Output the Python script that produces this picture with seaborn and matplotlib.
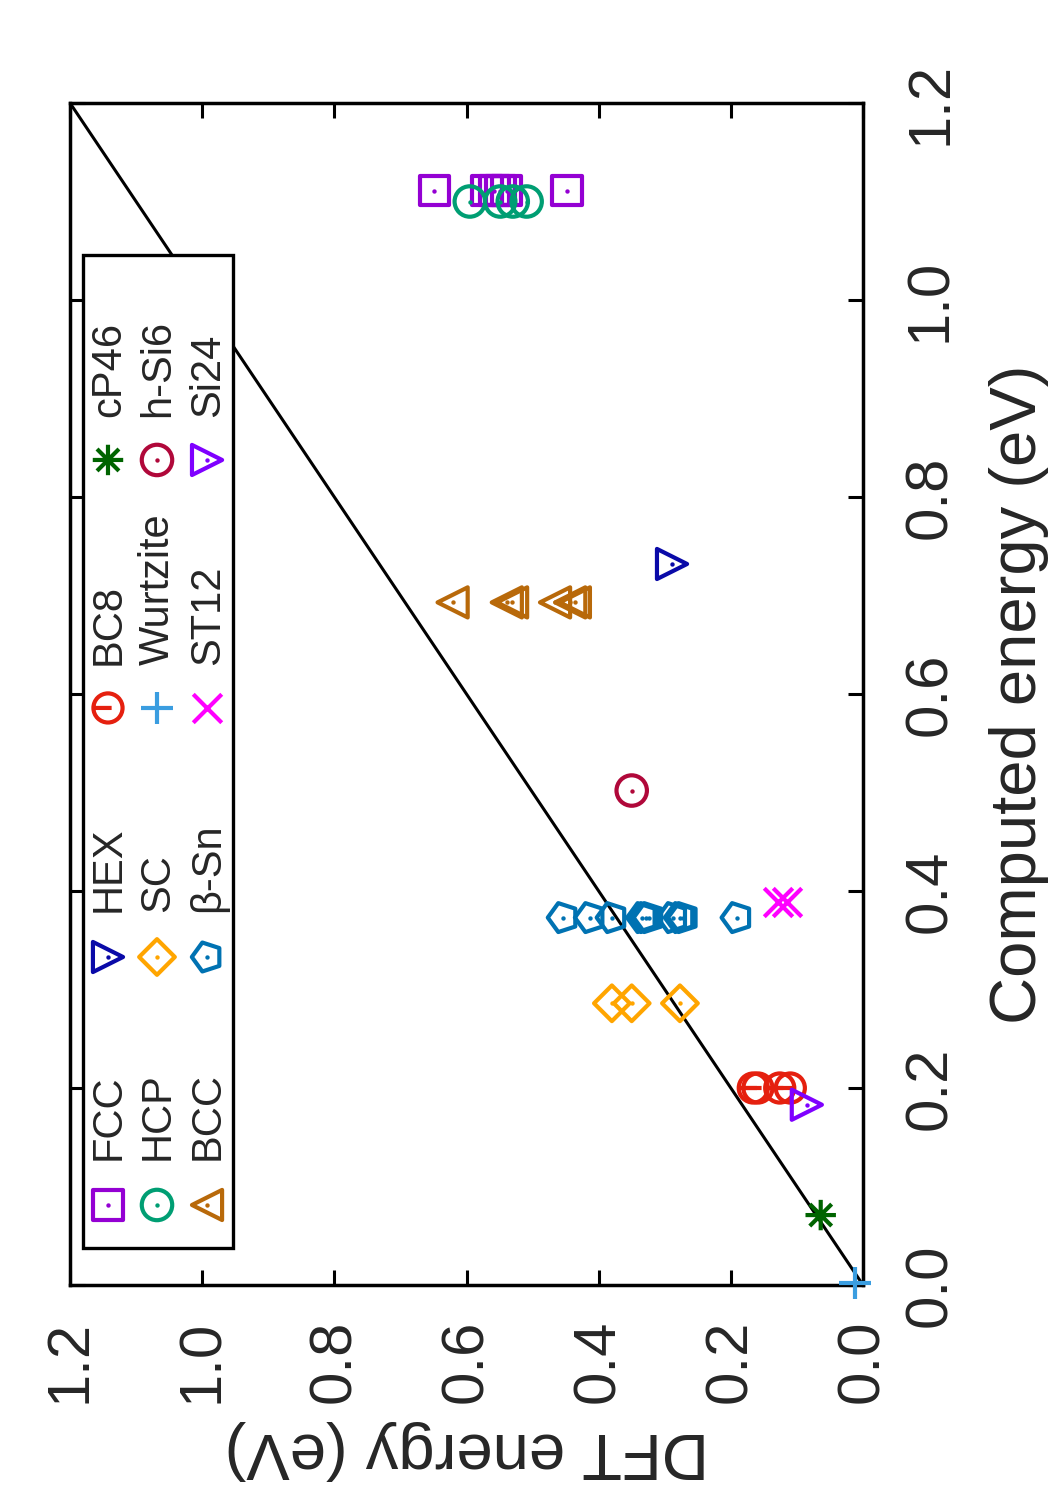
import matplotlib
matplotlib.use("Agg")
import matplotlib.pyplot as plt
import numpy as np
import seaborn as sns
from matplotlib.markers import MarkerStyle
from matplotlib.patches import Rectangle
from matplotlib.path import Path
from matplotlib.transforms import Affine2D

# Chart is drawn rotated: DFT energy runs horizontally (right to left),
# computed energy runs vertically (bottom to top).

# --- data: (computed energy, DFT energy) per structure ---
fcc_comp = [1.111, 1.111, 1.111, 1.111, 1.111, 1.111]
fcc_dft = [0.649, 0.569, 0.558, 0.549, 0.539, 0.448]

hcp_comp = [1.100, 1.100, 1.100, 1.100]
hcp_dft = [0.595, 0.549, 0.530, 0.509]

bcc_comp = [0.693, 0.693, 0.693, 0.693, 0.693, 0.693]
bcc_dft = [0.621, 0.539, 0.531, 0.466, 0.443, 0.436]

hex_comp = [0.732]
hex_dft = [0.289]

sc_comp = [0.286, 0.286, 0.286]
sc_dft = [0.380, 0.350, 0.277]

bsn_comp = [0.373, 0.373, 0.373, 0.373, 0.373, 0.373, 0.373, 0.373, 0.373, 0.373]
bsn_dft = [0.454, 0.413, 0.380, 0.334, 0.329, 0.324, 0.288, 0.277, 0.272, 0.191]

bc8_comp = [0.200, 0.200, 0.200, 0.200]
bc8_dft = [0.166, 0.159, 0.126, 0.110]

wurtz_comp = [0.002]
wurtz_dft = [0.012]

st12_comp = [0.389, 0.389]
st12_dft = [0.129, 0.115]

cp46_comp = [0.071]
cp46_dft = [0.064]

hsi6_comp = [0.502]
hsi6_dft = [0.350]

si24_comp = [0.183]
si24_dft = [0.085]

ticks = [0.0, 0.2, 0.4, 0.6, 0.8, 1.0, 1.2]

# --- custom marker shapes ---
rot = Affine2D().rotate_deg(90)
circle_bar = Path.make_compound_path(
    Path.unit_circle(),
    Path([(-1.0, 0.0), (0.25, 0.0)], [Path.MOVETO, Path.LINETO]),
)
asterisk = Path(
    [(-1, 0), (1, 0), (0, -1), (0, 1), (-0.72, -0.72), (0.72, 0.72), (-0.72, 0.72), (0.72, -0.72)],
    [Path.MOVETO, Path.LINETO] * 4,
)

# name, computed, dft, marker, colour, size, line marker?, centre dot?
series = [
    ("FCC", fcc_comp, fcc_dft, "s", "#9400d3", 440, False, True),
    ("HEX", hex_comp, hex_dft, ">", "#0a0aa8", 470, False, True),
    ("BC8", bc8_comp, bc8_dft, MarkerStyle(circle_bar), "#e5200f", 440, False, False),
    ("cP46", cp46_comp, cp46_dft, MarkerStyle(asterisk), "#006400", 480, False, False),
    ("HCP", hcp_comp, hcp_dft, "o", "#009e73", 480, False, True),
    ("SC", sc_comp, sc_dft, "D", "#ffa500", 330, False, True),
    ("Wurtzite", wurtz_comp, wurtz_dft, "+", "#3a9de0", 560, True, False),
    ("h-Si6", hsi6_comp, hsi6_dft, "o", "#b0083a", 480, False, True),
    ("BCC", bcc_comp, bcc_dft, "<", "#b8690a", 470, False, True),
    ("β-Sn", bsn_comp, bsn_dft, MarkerStyle("p", transform=rot), "#0072b2", 480, False, True),
    ("ST12", st12_comp, st12_dft, "x", "#ff00ff", 420, True, False),
    ("Si24", si24_comp, si24_dft, ">", "#7f00ff", 470, False, True),
]

sns.set_theme(style="white")
plt.rcParams["font.family"] = ["Liberation Sans", "DejaVu Sans"]

fig = plt.figure(figsize=(10.5, 15), dpi=100)
ax = fig.add_axes([70 / 1050, 1 - 1285 / 1500, 793 / 1050, 1182 / 1500])

ax.axline((0, 0), slope=1, color="black", lw=2.2, zorder=1)

LW = 3.0


def draw(x, y, marker, color, size, line, dot, clip=True):
    if line:
        sns.scatterplot(x=x, y=y, ax=ax, marker=marker, s=size, color=color,
                        linewidth=LW, clip_on=clip, zorder=3)
    else:
        sns.scatterplot(x=x, y=y, ax=ax, marker=marker, s=size, facecolor="none",
                        edgecolor=color, linewidth=LW, clip_on=clip, zorder=3)
    if dot:
        sns.scatterplot(x=x, y=y, ax=ax, marker="o", s=10, color=color,
                        linewidth=0, clip_on=clip, zorder=3)


for name, comp, dft, marker, color, size, line, dot in series:
    draw(dft, comp, marker, color, size, line, dot, clip=False)

ax.set_xlim(1.2, 0.0)
ax.set_ylim(0.0, 1.2)

# legend box drawn by hand so that its text can be rotated
ax.add_patch(Rectangle((13 / 793, 37 / 1182), 150 / 793, 993 / 1182, transform=ax.transAxes,
                       facecolor="white", edgecolor="black", lw=2.4, zorder=4))
col_x = [0.0479, 0.1097, 0.1728]
mark_y = [0.0677, 0.2775, 0.4882, 0.6980]
text_y = [0.1058, 0.3156, 0.5245, 0.7344]
for i, (name, comp, dft, marker, color, size, line, dot) in enumerate(series):
    c = i // 4
    r = i % 4
    kw = dict(transform=ax.transAxes)
    if line:
        ax.scatter([col_x[c]], [mark_y[r]], marker=marker, s=size, color=color,
                   linewidths=LW, zorder=5, **kw)
    else:
        ax.scatter([col_x[c]], [mark_y[r]], marker=marker, s=size, facecolors="none",
                   edgecolors=color, linewidths=LW, zorder=5, **kw)
    if dot:
        ax.scatter([col_x[c]], [mark_y[r]], marker="o", s=10, color=color,
                   linewidths=0, zorder=5, **kw)
    ax.text(col_x[c] + 0.001, text_y[r], name, rotation=90, ha="center", va="bottom",
            fontsize=30, zorder=6, **kw)

ax.set_xticks(ticks)
ax.set_yticks(ticks)
ax.set_xticklabels([f"{t:.1f}" for t in ticks], rotation=90)
ax.set_yticklabels([f"{t:.1f}" for t in ticks], rotation=90, va="center")
ax.yaxis.tick_right()
ax.yaxis.set_label_position("right")
ax.tick_params(axis="both", which="major", direction="in", length=11, width=2.2,
               labelsize=43, top=True, bottom=True, left=True, right=True,
               labelleft=False, labelright=True, color="black")
ax.tick_params(axis="x", pad=25)
ax.tick_params(axis="y", pad=29)

ax.set_xlabel("DFT energy (eV)", fontsize=47, rotation=180, labelpad=12)
ax.set_ylabel("Computed energy (eV)", fontsize=47, rotation=90, labelpad=22)

for s in ax.spines.values():
    s.set_color("black")
    s.set_linewidth(2.5)
ax.grid(False)

fig.savefig("out.png", dpi=100)
